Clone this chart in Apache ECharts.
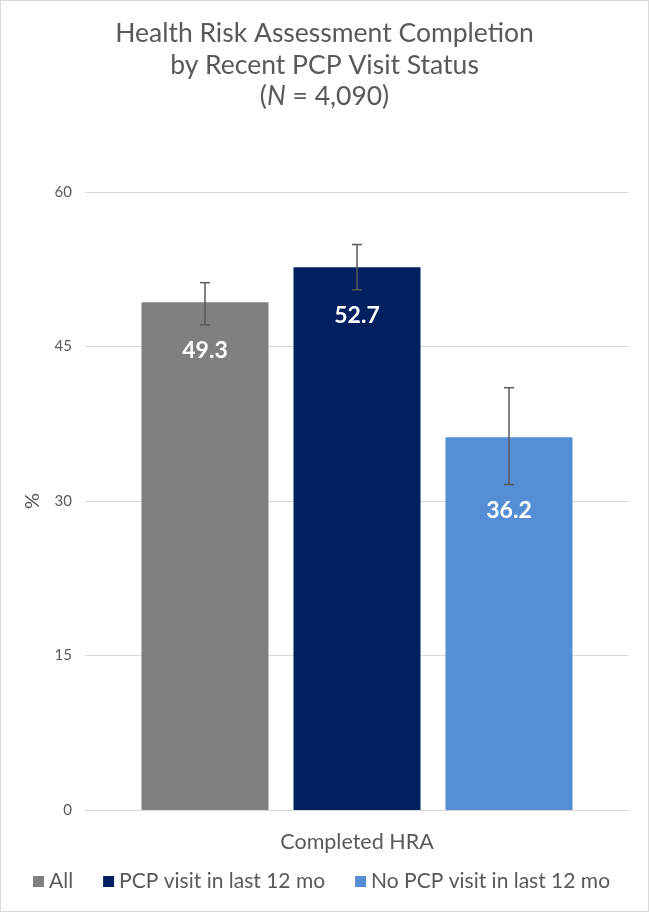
<!DOCTYPE html>
<html><head><meta charset="utf-8">
<script src="https://cdn.jsdelivr.net/npm/echarts@6/dist/echarts.min.js"></script>
<style>
html,body{margin:0;padding:0;background:#fff;}
#c{width:647px;height:910px;border:1px solid #d9d9d9;}
</style></head>
<body><div id="c"></div>
<script>
const categories = ['Completed HRA'];
const seriesNames = ['All', 'PCP visit in last 12 mo', 'No PCP visit in last 12 mo'];
const values = [49.3, 52.7, 36.2];
const ciLow = [47.1, 50.5, 31.6];
const ciHigh = [51.2, 54.9, 41.0];
const yTicks = [0, 15, 30, 45, 60];
const colors = ['#808080', '#002060', '#558ED5'];

const FONT = 'Lato';
const BAR_W = 127, GAP = 25;
const chart = echarts.init(document.getElementById('c'), null, {renderer: 'canvas'});

const barSeries = seriesNames.map((n, i) => ({
  name: n, type: 'bar', barWidth: BAR_W, barGap: (GAP / BAR_W * 100) + '%',
  data: [values[i]],
  itemStyle: {color: colors[i]}
}));

const errSeries = seriesNames.map((n, i) => ({
  type: 'custom', z: 10, silent: true,
  data: [[0, ciLow[i], ciHigh[i], values[i]]],
  renderItem: (params, api) => {
    const lo = api.coord([api.value(0), api.value(1)]);
    const hi = api.coord([api.value(0), api.value(2)]);
    const x = lo[0] + (i - 1) * (BAR_W + GAP);
    const hw = 5;
    const st = {stroke: '#595959', lineWidth: 1.5};
    return {type: 'group', children: [
      {type: 'line', shape: {x1: x, y1: lo[1], x2: x, y2: hi[1]}, style: st},
      {type: 'line', shape: {x1: x - hw, y1: lo[1], x2: x + hw, y2: lo[1]}, style: st},
      {type: 'line', shape: {x1: x - hw, y1: hi[1], x2: x + hw, y2: hi[1]}, style: st},
      {type: 'text', x: x, y: lo[1] + 26, style: {
        text: api.value(3).toFixed(1), fill: '#fff', font: 'bold 23px ' + FONT,
        textAlign: 'center', textVerticalAlign: 'middle'}}
    ]};
  }
}));

chart.setOption({
  animation: false,
  textStyle: {fontFamily: FONT},
  title: {
    text: 'Health Risk Assessment Completion\nby Recent PCP Visit Status\n({i|N} = 4,090)',
    left: 'center', top: 12,
    textStyle: {fontFamily: FONT, fontSize: 26.5, fontWeight: 'normal', color: '#595959', lineHeight: 31.5,
      rich: {i: {fontFamily: FONT, fontSize: 26.5, fontStyle: 'italic', color: '#595959', lineHeight: 31.5}}}
  },
  legend: {
    bottom: 14, left: 27, itemWidth: 11, itemHeight: 11, itemGap: 30,
    icon: 'rect',
    textStyle: {fontFamily: FONT, fontSize: 21, color: '#595959'},
    data: seriesNames
  },
  grid: {left: 84, right: 19, top: 191, bottom: 101, containLabel: false},
  xAxis: {
    type: 'category', data: categories,
    axisLine: {lineStyle: {color: '#d9d9d9'}}, axisTick: {show: false},
    axisLabel: {color: '#595959', fontSize: 21.5, fontFamily: FONT, margin: 21}
  },
  yAxis: {
    type: 'value', min: 0, max: 60, interval: 15,
    name: '%', nameLocation: 'middle', nameGap: 42, nameRotate: 90,
    nameTextStyle: {color: '#595959', fontSize: 20, fontFamily: FONT},
    axisLabel: {color: '#595959', fontSize: 15, fontFamily: FONT, margin: 13,
      formatter: v => yTicks.includes(v) ? String(v) : ''},
    splitLine: {lineStyle: {color: '#d9d9d9'}},
    axisLine: {show: false}, axisTick: {show: false}
  },
  series: [...barSeries, ...errSeries]
});
</script></body></html>
